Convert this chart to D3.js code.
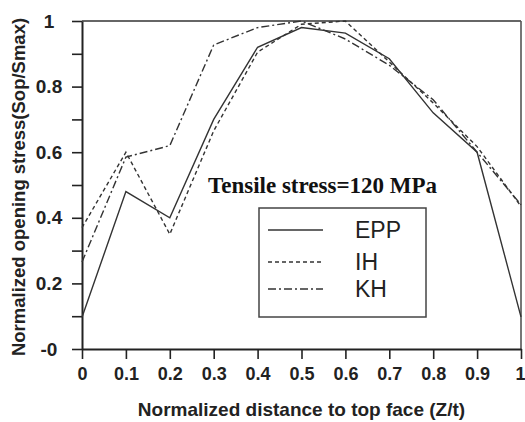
<!DOCTYPE html>
<html><head><meta charset="utf-8">
<script src="https://cdn.jsdelivr.net/npm/d3@7"></script>
<style>body{margin:0;background:#fff}svg{display:block}</style>
</head><body>
<svg id="c" width="525" height="422"></svg>
<script>
const xs = [0,0.1,0.2,0.3,0.4,0.5,0.6,0.7,0.8,0.9,1];
const epp = [0.097,0.48,0.40,0.70,0.92,0.98,0.963,0.885,0.72,0.60,0.098];
const ih  = [0.37,0.60,0.35,0.665,0.905,0.99,1.0,0.875,0.75,0.617,0.435];
const kh  = [0.265,0.585,0.62,0.927,0.98,1.0,0.945,0.865,0.76,0.60,0.44];
const xTicks = [0,0.1,0.2,0.3,0.4,0.5,0.6,0.7,0.8,0.9,1];
const xTickLabels = ["0","0.1","0.2","0.3","0.4","0.5","0.6","0.7","0.8","0.9","1"];
const yTicks = [0,0.1,0.2,0.3,0.4,0.5,0.6,0.7,0.8,0.9,1];
const yTickLabels = {"0":"-0","0.2":"0.2","0.4":"0.4","0.6":"0.6","0.8":"0.8","1":"1"};
const seriesNames = ["EPP","IH","KH"];

const svg = d3.select("#c");
const L=82,R=521,T=21,B=349;
const x = d3.scaleLinear().domain([0,1]).range([L,R]);
const y = d3.scaleLinear().domain([0,1]).range([B,T]);
const col = "#333";
const sans = "Liberation Sans, Arial, sans-serif";

svg.append("line").attr("x1",L).attr("x2",R).attr("y1",T).attr("y2",T).attr("stroke","#666").attr("stroke-width",2);
svg.append("line").attr("x1",R).attr("x2",R).attr("y1",T).attr("y2",B).attr("stroke","#555").attr("stroke-width",1.6);

const xa = svg.append("g").attr("transform",`translate(0,${B})`)
  .call(d3.axisBottom(x).tickValues(xTicks).tickSize(10).tickSizeOuter(0)
    .tickFormat((d,i)=>xTickLabels[i]).tickPadding(8));
xa.select(".domain").attr("stroke","#222").attr("stroke-width",2);
xa.selectAll(".tick line").attr("stroke","#222").attr("stroke-width",1.6);
xa.selectAll("text").attr("font-family",sans).attr("font-weight","bold").attr("font-size",18).attr("fill","#222");
xa.selectAll(".tick").filter(d=>d===1).select("text").attr("text-anchor","end").attr("dx",4);

const ya = svg.append("g").attr("transform",`translate(${L},0)`)
  .call(d3.axisLeft(y).tickValues(yTicks).tickSize(10).tickSizeOuter(0)
    .tickFormat(d=>{const k=String(+d.toFixed(1)); return yTickLabels[k]||"";}).tickPadding(14));
ya.select(".domain").attr("stroke","#222").attr("stroke-width",2);
ya.selectAll(".tick line").attr("stroke","#222").attr("stroke-width",1.6);
ya.selectAll("text").attr("font-family",sans).attr("font-weight","bold").attr("font-size",19).attr("fill","#222")
  .attr("text-anchor","middle").attr("x",-33);

svg.append("text").attr("x",(L+R)/2).attr("y",416).attr("text-anchor","middle")
  .attr("font-family",sans).attr("font-weight","bold").attr("font-size",19).attr("fill","#222")
  .text("Normalized distance to top face (Z/t)");
svg.append("text").attr("transform",`translate(25,${(T+B)/2+2}) rotate(-90)`).attr("text-anchor","middle")
  .attr("font-family",sans).attr("font-weight","bold").attr("font-size",18.5).attr("fill","#222")
  .text("Normalized opening stress(Sop/Smax)");

const line = d3.line().x((d,i)=>x(xs[i])).y(d=>y(d));
const styles = [null,"4,3","8,3,2,3"];
[epp,ih,kh].forEach((s,k)=>{
  svg.append("path").attr("d",line(s)).attr("fill","none").attr("stroke",col).attr("stroke-width",1.4)
    .attr("stroke-dasharray",styles[k]);
});

svg.append("text").attr("x",208).attr("y",193)
  .attr("font-family","Liberation Serif, Times New Roman, serif").attr("font-weight","bold").attr("font-size",23).attr("fill","#111")
  .text("Tensile stress=120 MPa");

svg.append("rect").attr("x",259).attr("y",208).attr("width",167).attr("height",109).attr("fill","#fff").attr("stroke","#444").attr("stroke-width",1.5);
const ly=[230,262,289];
seriesNames.forEach((n,k)=>{
  svg.append("line").attr("x1",268).attr("x2",323).attr("y1",ly[k]).attr("y2",ly[k]).attr("stroke",col).attr("stroke-width",1.4).attr("stroke-dasharray",styles[k]);
  svg.append("text").attr("x",355).attr("y",ly[k]+8).attr("font-family",sans).attr("font-size",23).attr("fill","#222").text(n);
});
</script>
</body></html>
